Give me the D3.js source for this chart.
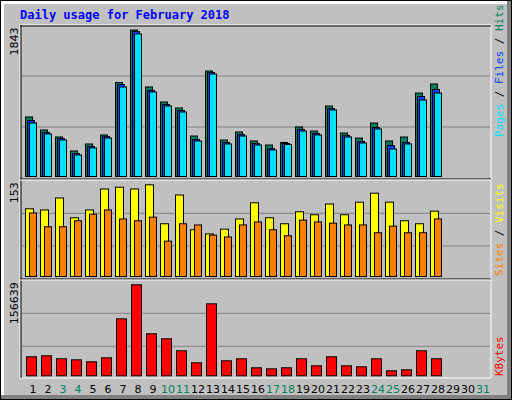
<!DOCTYPE html>
<html><head><style>body{margin:0;background:#fff}</style></head>
<body><svg id="svg"></svg>
<script src="https://cdnjs.cloudflare.com/ajax/libs/d3/7.8.5/d3.min.js"></script>
<script>
var days = d3.range(1, 32)
var weekend = [3,4,10,11,17,18,24,25,31]
var hits  = [749,585,497,321,409,522,1183,1843,1126,937,862,509,1327,459,560,447,396,428,623,572,887,547,484,673,447,497,1050,1164]
var files = [704,554,478,289,377,503,1157,1824,1082,906,830,465,1308,428,528,415,352,415,591,541,855,516,440,616,390,428,1006,1094]
var pages = [673,535,459,270,359,484,1126,1793,1063,887,811,447,1289,409,509,396,333,403,572,522,837,497,421,598,346,409,962,1050]
var visits = [113,111,131,98,111,146,149,146,153,88,136,78,71,79,96,123,98,88,108,103,121,103,124,139,124,93,88,109]
var sites  = [106,83,83,93,104,111,96,93,99,59,88,86,69,66,86,91,78,68,94,91,89,86,86,73,84,73,73,96]
var kbytes = [32700,34400,29300,27500,24100,31000,98100,156639,72300,63700,43000,22400,123900,25800,29300,13800,12000,13800,29300,17200,32700,17200,15500,29300,8600,10300,43000,29300]

var svg = d3.select('#svg').attr('width',512).attr('height',400)
  .style('font-family','"DejaVu Sans Mono", monospace')
// frame
svg.append('rect').attr('x',0).attr('y',0).attr('width',512).attr('height',400).attr('fill','#000')
svg.append('rect').attr('x',1).attr('y',1).attr('width',510).attr('height',398).attr('fill','#808080')
svg.append('rect').attr('x',1).attr('y',1).attr('width',506).attr('height',394).attr('fill','#fff')
svg.append('rect').attr('x',4).attr('y',4).attr('width',503).attr('height',391).attr('fill','#c0c0c0')

svg.append('text').attr('x',20).attr('y',19).text('Daily usage for February 2018')
  .attr('fill','#0000ff').attr('font-weight','bold').attr('font-size',12)

var x = d3.scaleBand().domain(days).range([25,490]).padding(0)
// x = start of each day's 15px slot
function xs(i){ return 25 + i*15 }

// plot frame
svg.append('rect').attr('x',20).attr('y',25).attr('width',471).attr('height',353)
  .attr('fill','none').attr('stroke','#fff').attr('stroke-width',1)
svg.append('line').attr('x1',21).attr('x2',21).attr('y1',25).attr('y2',378).attr('stroke','#000')
svg.append('line').attr('x1',20).attr('x2',491).attr('y1',26).attr('y2',26).attr('stroke','#000')
;[179,279].forEach(function(y){
  svg.append('line').attr('x1',20).attr('x2',491).attr('y1',y).attr('y2',y).attr('stroke','#000')
  svg.append('line').attr('x1',20).attr('x2',491).attr('y1',y+1).attr('y2',y+1).attr('stroke','#fff')
})

function panel(base, top, max, grids, sets, lbl){
  var y = d3.scaleLinear().domain([0,max]).range([base, top])
  grids.forEach(function(g){
    svg.append('line').attr('x1',22).attr('x2',490).attr('y1',g).attr('y2',g).attr('stroke','#808080')
  })
  sets.forEach(function(s){
    svg.append('g').selectAll('rect').data(s.data).enter().append('rect')
      .attr('x',function(d,i){return xs(i)+s.dx+0.5})
      .attr('y',function(d){return y(d)+0.5})
      .attr('width',s.w).attr('height',function(d){return base-y(d)})
      .attr('fill',s.c).attr('stroke','#000')
  })
  svg.append('text').attr('transform','translate(18,'+(top-2)+') rotate(-90)')
    .attr('text-anchor','end').attr('font-family','"DejaVu Sans", sans-serif').attr('font-size',11).text(max)
  var t = svg.append('text').attr('transform','translate(503,'+lbl.y+') rotate(-90)')
    .attr('font-size',11).attr('text-anchor','start')
  lbl.parts.forEach(function(p){ t.append('tspan').attr('fill',p[1]).text(p[0]) })
}

panel(176, 29.5, 1843, [76,127], [
  {data:hits, dx:0, w:7, c:'#00805c'},
  {data:files, dx:2, w:7, c:'#0040ff'},
  {data:pages, dx:4, w:7, c:'#00e0ff'}],
  {y:137, parts:[['Pages','#00e0ff'],[' / ','#000'],['Files','#0040ff'],[' / ','#000'],['Hits','#00805c']]})
panel(276, 184.3, 153, [213.3,246], [
  {data:visits, dx:0, w:8, c:'#ffff00'},
  {data:sites, dx:4, w:7, c:'#ff8000'}],
  {y:276, parts:[['Sites','#ff8000'],[' / ','#000'],['Visits','#ffff00']]})
panel(375.3, 284.3, 156639, [313.3,346.3], [
  {data:kbytes, dx:1, w:10, c:'#ff0000'}],
  {y:376, parts:[['KBytes','#ff0000']]})

svg.append('g').selectAll('text').data(days).enter().append('text')
  .attr('x',function(d,i){return xs(i)+8}).attr('y',393).attr('text-anchor','middle')
  .attr('font-family','"DejaVu Sans", sans-serif').attr('font-size',11)
  .attr('fill',function(d){return weekend.indexOf(d)>=0?'#00805c':'#000'}).text(function(d){return d})
</script></body></html>
